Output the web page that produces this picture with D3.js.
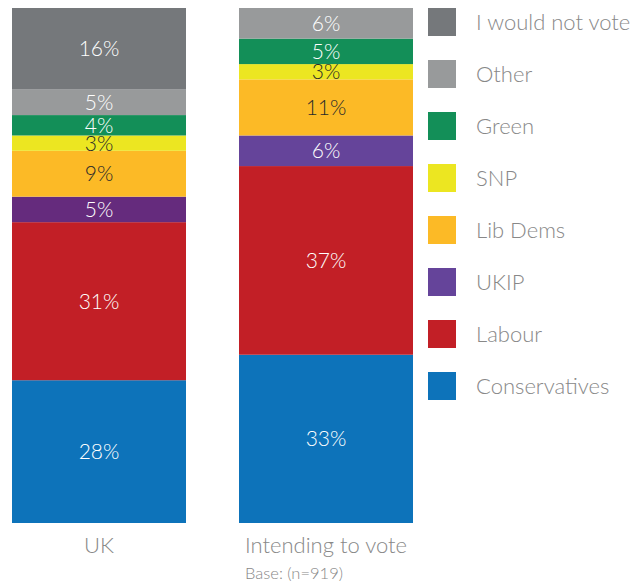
<!DOCTYPE html>
<html><head><meta charset="utf-8">
<script src="https://cdn.jsdelivr.net/npm/d3@7"></script>
<style>
body{margin:0;background:#fff;}
text{font-family:Lato, "Open Sans", sans-serif;font-weight:300;}
</style></head>
<body><svg id="c" width="641" height="584"></svg>
<script>
const bars = ["UK", "Intending to vote"];
const parties = ["Conservatives", "Labour", "UKIP", "Lib Dems", "SNP", "Green", "Other", "I would not vote"];
const ukValues = [28, 31, 5, 9, 3, 4, 5, 16];
const intendingValues = [33, 37, 6, 11, 3, 5, 6, 0];
const partyColors = ["#0d73ba", "#c21f26", "#65449a", "#fcba26", "#ece621", "#138f58", "#989a9b", "#75787b"];
const ukipUkColor = "#652b7d";
const darkLabelParties = ["Lib Dems", "SNP"];
const baseNote = "Base: (n=919)";

const svg = d3.select("#c");
const x = d3.scaleBand().domain(bars).range([12, 413]).paddingInner(53 / 227);
const y = d3.scaleLinear().domain([0, 101]).range([523, 8]);

const series = [ukValues, intendingValues];
bars.forEach((b, bi) => {
  let cum = 0;
  const segs = parties.map((p, i) => {
    const s = {party: p, i, v: series[bi][i], y0: cum, y1: cum + series[bi][i]};
    cum += series[bi][i];
    return s;
  }).filter(s => s.v > 0);
  const g = svg.append("g");
  g.selectAll("rect").data(segs).join("rect")
    .attr("x", x(b)).attr("width", x.bandwidth())
    .attr("y", d => y(d.y1)).attr("height", d => y(d.y0) - y(d.y1))
    .attr("fill", d => (b === "UK" && d.party === "UKIP") ? ukipUkColor : partyColors[d.i]);
  g.selectAll("text").data(segs).join("text")
    .attr("x", x(b) + x.bandwidth() / 2)
    .attr("y", d => (y(d.y0) + y(d.y1)) / 2)
    .attr("dy", "0.36em")
    .attr("text-anchor", "middle")
    .attr("font-size", 21)
    .attr("fill", d => darkLabelParties.includes(d.party) ? "#2a2a2a" : "#ffffff")
    .text(d => d.v + "%");
});

// category axis labels
const xAxis = d3.axisBottom(x).tickSize(0).tickPadding(0);
const ax = svg.append("g").attr("transform", "translate(0,553)").call(xAxis);
ax.select(".domain").remove();
ax.selectAll("text").attr("font-size", 22).attr("fill", "#888888").attr("dy", 0)
  .style("font-family", "Lato, sans-serif").style("font-weight", 300);

svg.append("text").attr("x", x(bars[1]) + 6).attr("y", 579)
  .attr("font-size", 16.5).attr("fill", "#888888").text(baseNote);

// legend
const legendOrder = parties.slice().reverse();
const ly = d3.scalePoint().domain(legendOrder).range([8, 372]);
const lg = svg.append("g").selectAll("g").data(legendOrder).join("g")
  .attr("transform", d => `translate(428,${ly(d)})`);
lg.append("rect").attr("width", 28).attr("height", 28)
  .attr("fill", d => partyColors[parties.indexOf(d)]);
lg.append("text").attr("x", 48).attr("y", 14).attr("dy", "0.36em")
  .attr("font-size", 22).attr("fill", "#888888").text(d => d);
</script></body></html>
